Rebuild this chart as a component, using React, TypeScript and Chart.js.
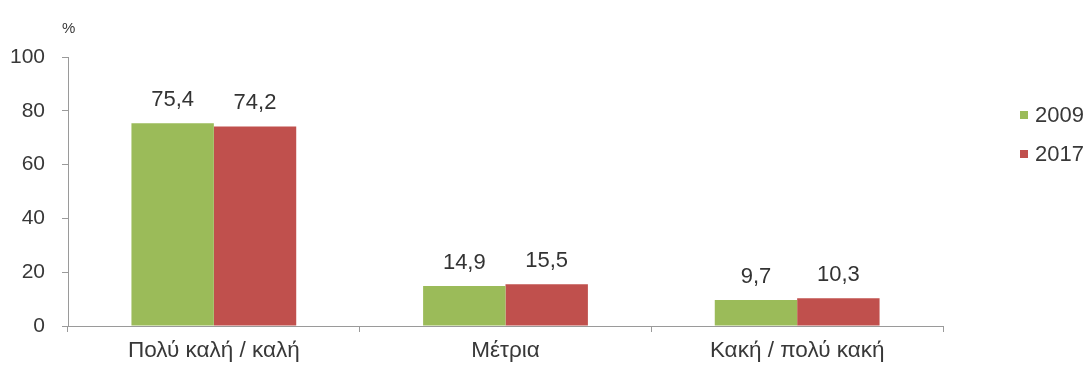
import React, { useEffect, useRef } from "react";
import { Chart, registerables } from "chart.js";

Chart.register(...registerables);

const categories = ["Πολύ καλή / καλή", "Μέτρια", "Κακή / πολύ κακή"];
const values2009 = [75.4, 14.9, 9.7];
const values2017 = [74.2, 15.5, 10.3];
const seriesNames = ["2009", "2017"];
const yTicks = [0, 20, 40, 60, 80, 100];

const GREEN = "#9bbb59";
const RED = "#c0504d";
const AXIS = "#9a9a9a";
const TEXT = "#383838";
const FONT = "'Liberation Sans', Arial, sans-serif";

const fmt = (v: number) => v.toFixed(1).replace(".", ",");

// value labels above each bar
const valueLabels = {
  id: "valueLabels",
  afterDatasetsDraw(chart: any) {
    const ctx = chart.ctx;
    ctx.save();
    ctx.font = `22px ${FONT}`;
    ctx.fillStyle = "#333333";
    ctx.textAlign = "center";
    ctx.textBaseline = "middle";
    chart.data.datasets.forEach((ds: any, i: number) => {
      const meta = chart.getDatasetMeta(i);
      meta.data.forEach((bar: any, j: number) => {
        ctx.fillText(fmt(ds.data[j]), bar.x, bar.y - 23);
      });
    });
    ctx.restore();
  },
};

// legend on the right and the "%" unit label
const sideLegend = {
  id: "sideLegend",
  afterDraw(chart: any) {
    const ctx = chart.ctx;
    ctx.save();
    ctx.font = `22px ${FONT}`;
    ctx.textBaseline = "middle";
    ctx.textAlign = "left";
    const rows = [115, 154];
    chart.data.datasets.forEach((ds: any, i: number) => {
      const y = rows[i];
      ctx.fillStyle = ds.backgroundColor;
      ctx.fillRect(1020, y - 4, 8, 8);
      ctx.fillStyle = TEXT;
      ctx.fillText(ds.label, 1035, y + 1);
    });
    ctx.font = `15px ${FONT}`;
    ctx.fillStyle = TEXT;
    ctx.textAlign = "left";
    ctx.fillText("%", 62, 29);
    ctx.restore();
  },
};

export default function App() {
  const ref = useRef<HTMLCanvasElement | null>(null);

  useEffect(() => {
    if (!ref.current) return;
    const chart = new Chart(ref.current, {
      type: "bar",
      data: {
        labels: categories,
        datasets: [
          {
            label: seriesNames[0],
            data: values2009,
            backgroundColor: GREEN,
            categoryPercentage: 0.565,
            barPercentage: 1,
          },
          {
            label: seriesNames[1],
            data: values2017,
            backgroundColor: RED,
            categoryPercentage: 0.565,
            barPercentage: 1,
          },
        ],
      },
      options: {
        animation: false,
        responsive: true,
        maintainAspectRatio: false,
        layout: { padding: { top: 57, right: 145, bottom: 0, left: 0 } },
        plugins: {
          legend: { display: false },
          tooltip: { enabled: false },
        },
        scales: {
          x: {
            afterFit: (s: any) => {
              s.height = 39;
            },
            grid: {
              display: true,
              drawOnChartArea: false,
              drawTicks: true,
              tickLength: 6,
              color: AXIS,
              offset: true,
            },
            border: { color: AXIS, width: 1 },
            ticks: {
              padding: 5,
              color: TEXT,
              font: { family: FONT, size: 22.5 },
              maxRotation: 0,
            },
          },
          y: {
            min: 0,
            max: 100,
            afterFit: (s: any) => {
              s.width = 68;
            },
            afterBuildTicks: (s: any) => {
              s.ticks = yTicks.map((v) => ({ value: v }));
            },
            grid: {
              display: true,
              drawOnChartArea: false,
              drawTicks: true,
              tickLength: 6,
              color: AXIS,
            },
            border: { color: AXIS, width: 1 },
            ticks: {
              padding: 17,
              color: TEXT,
              font: { family: FONT, size: 21 },
            },
          },
        },
      },
      plugins: [valueLabels, sideLegend],
    });
    return () => chart.destroy();
  }, []);

  return (
    <div
      style={{
        position: "absolute",
        left: 0,
        top: 0,
        width: 1088,
        height: 365,
        background: "#ffffff",
      }}
    >
      <canvas ref={ref} />
    </div>
  );
}
